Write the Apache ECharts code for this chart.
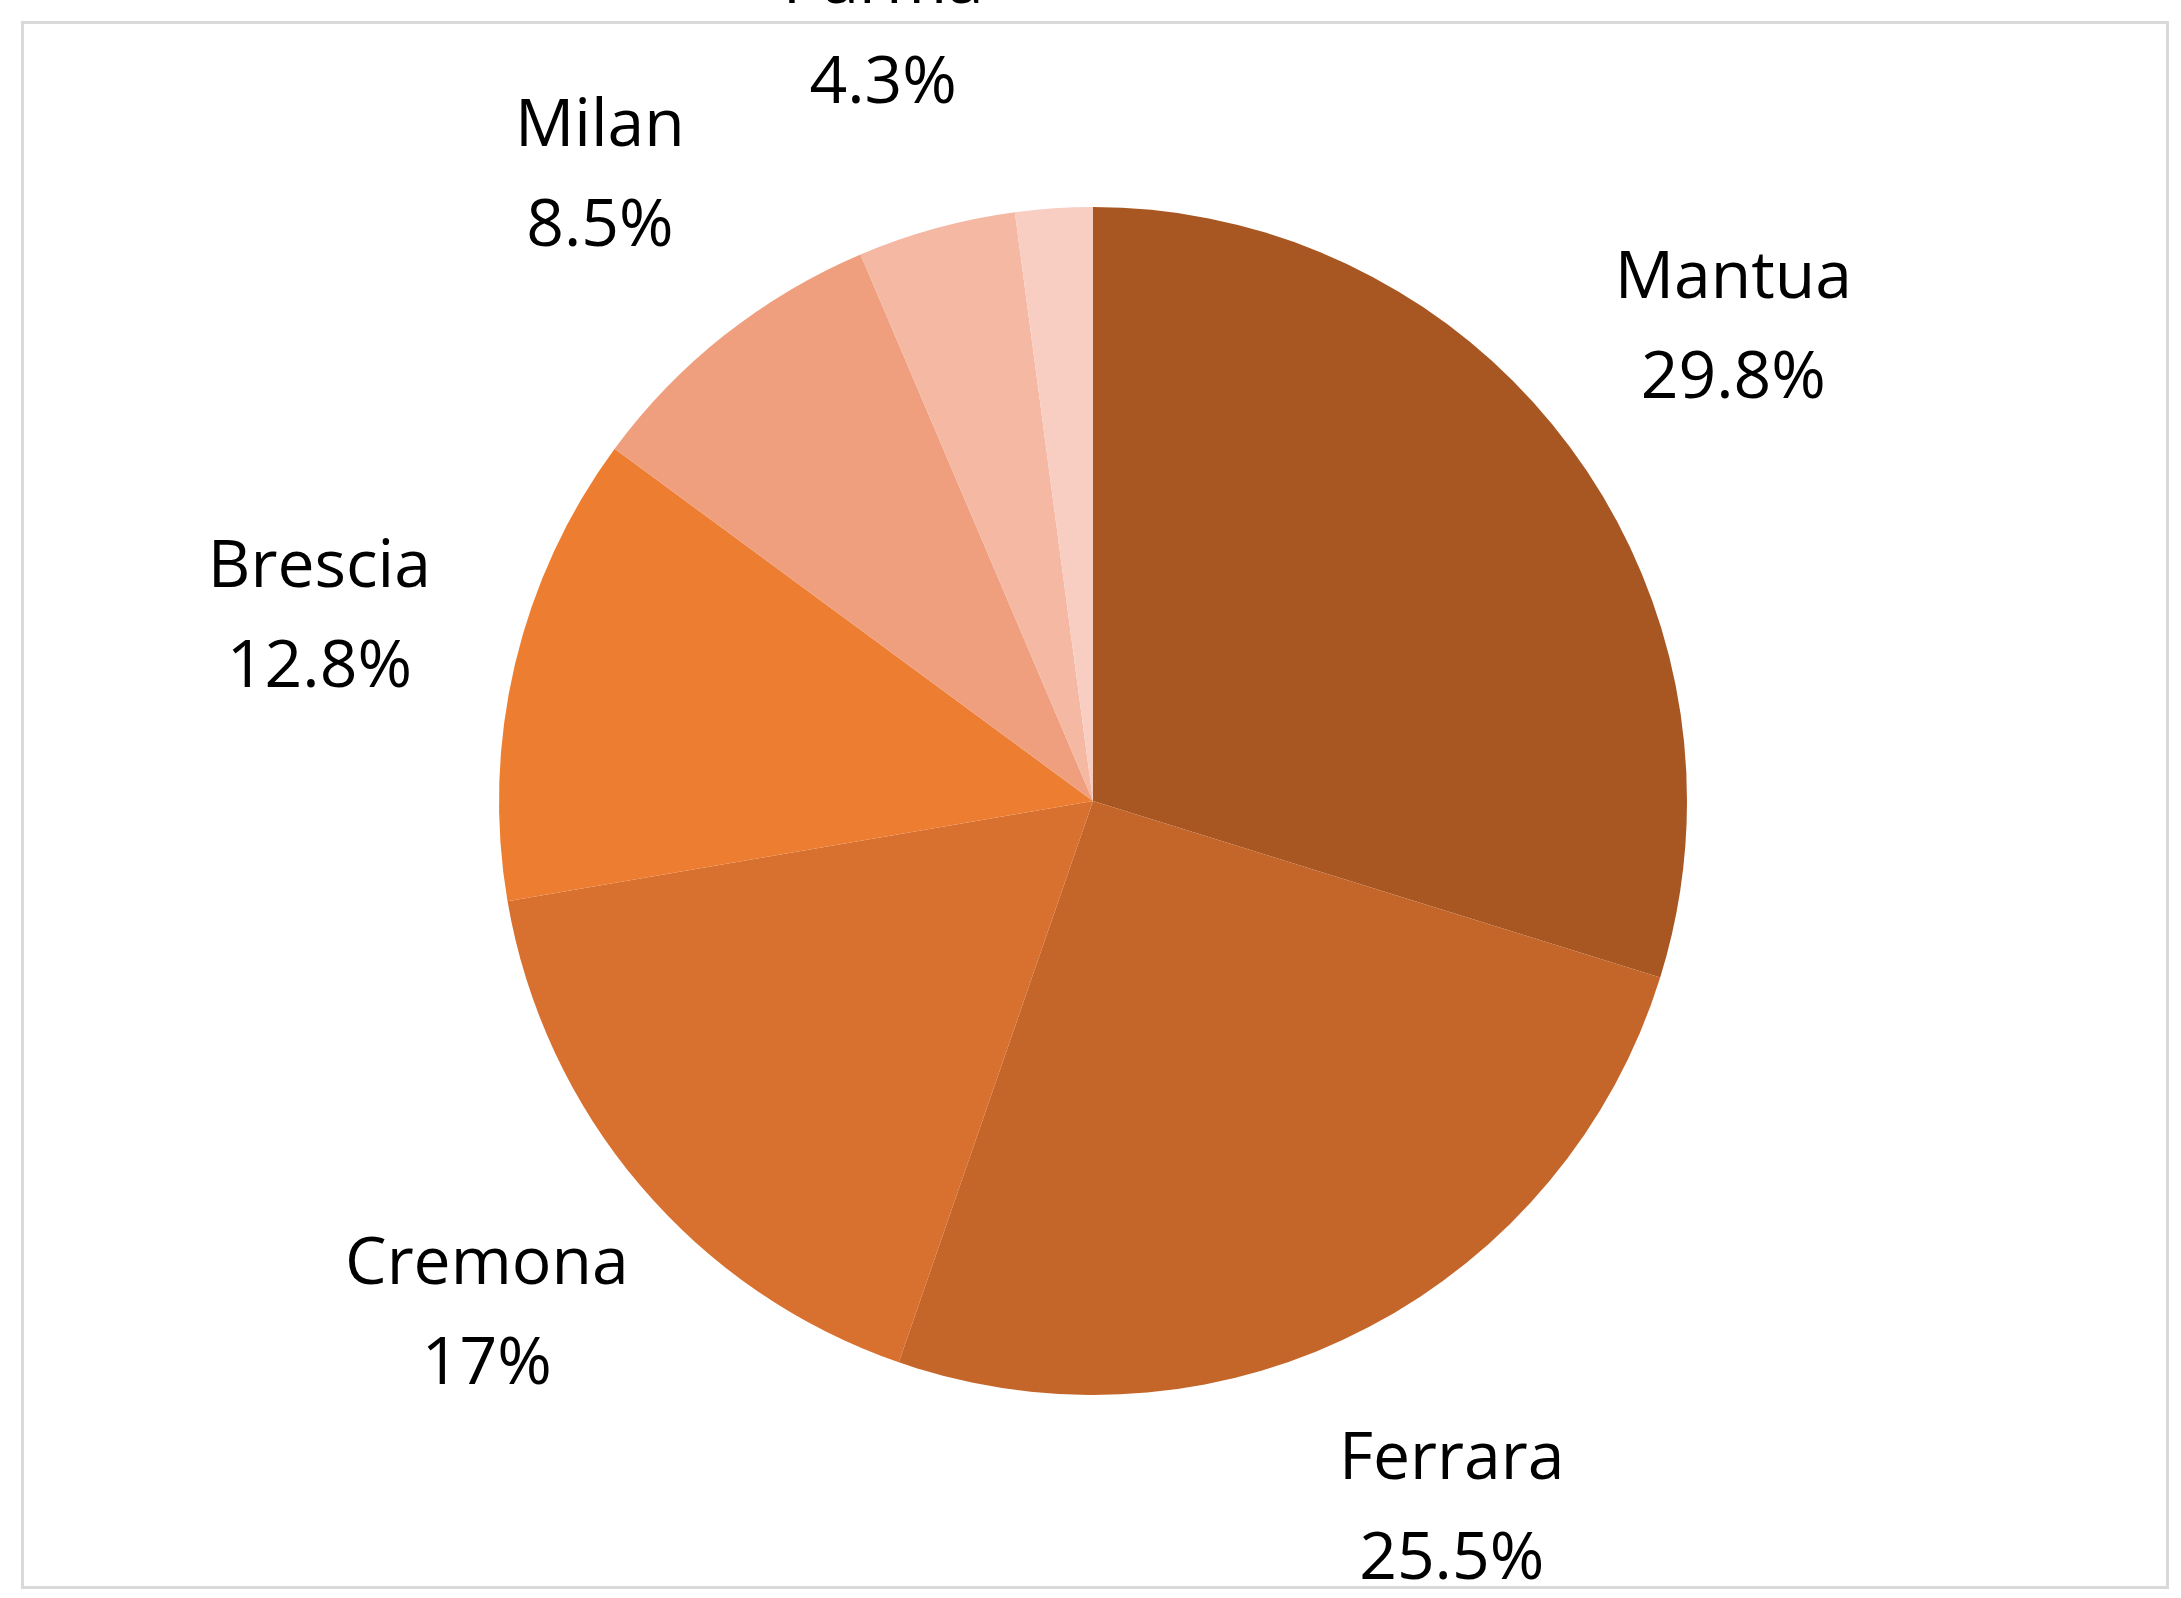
<!DOCTYPE html>
<html><head><meta charset="utf-8">
<script src="https://cdn.jsdelivr.net/npm/echarts@6/dist/echarts.min.js"></script>
<style>html,body{margin:0;background:#fff}#main{width:2181px;height:1598px}
#frame{position:absolute;left:21px;top:21px;width:2142px;height:1562px;border:3px solid #d9d9d9}</style>
</head><body><div id="frame"></div><div id="main"></div>
<script>
const cities = ['Mantua', 'Ferrara', 'Cremona', 'Brescia', 'Milan', 'Parma', 'Forlì'];
const shares = [29.8, 25.5, 17, 12.8, 8.5, 4.3, 2.1];
const colors = ['#A85722', '#C4662A', '#D8702F', '#ED7D31', '#EF9F7D', '#F4B8A3', '#F8CEC3'];

const chart = echarts.init(document.getElementById('main'));
const data = cities.map((c, i) => ({ name: c, value: shares[i], itemStyle: { color: colors[i] } }));
chart.setOption({
    animation: false,
    series: [{
        type: 'pie', center: [1093, 801], radius: 594, startAngle: 90, clockwise: true,
        label: { show: false }, labelLine: { show: false }, data: data
    }, {
        type: 'pie', center: [1093, 801], radius: [594, 990], startAngle: 90, clockwise: true,
        itemStyle: { color: 'transparent' }, silent: true,
        label: {
            position: 'inside', formatter: p => p.name + '\n' + p.value + '%',
            fontFamily: 'Open Sans', fontSize: 66, lineHeight: 100, color: '#000'
        },
        labelLine: { show: false },
        data: data.map(d => ({ name: d.name, value: d.value }))
    }]
});
</script></body></html>
